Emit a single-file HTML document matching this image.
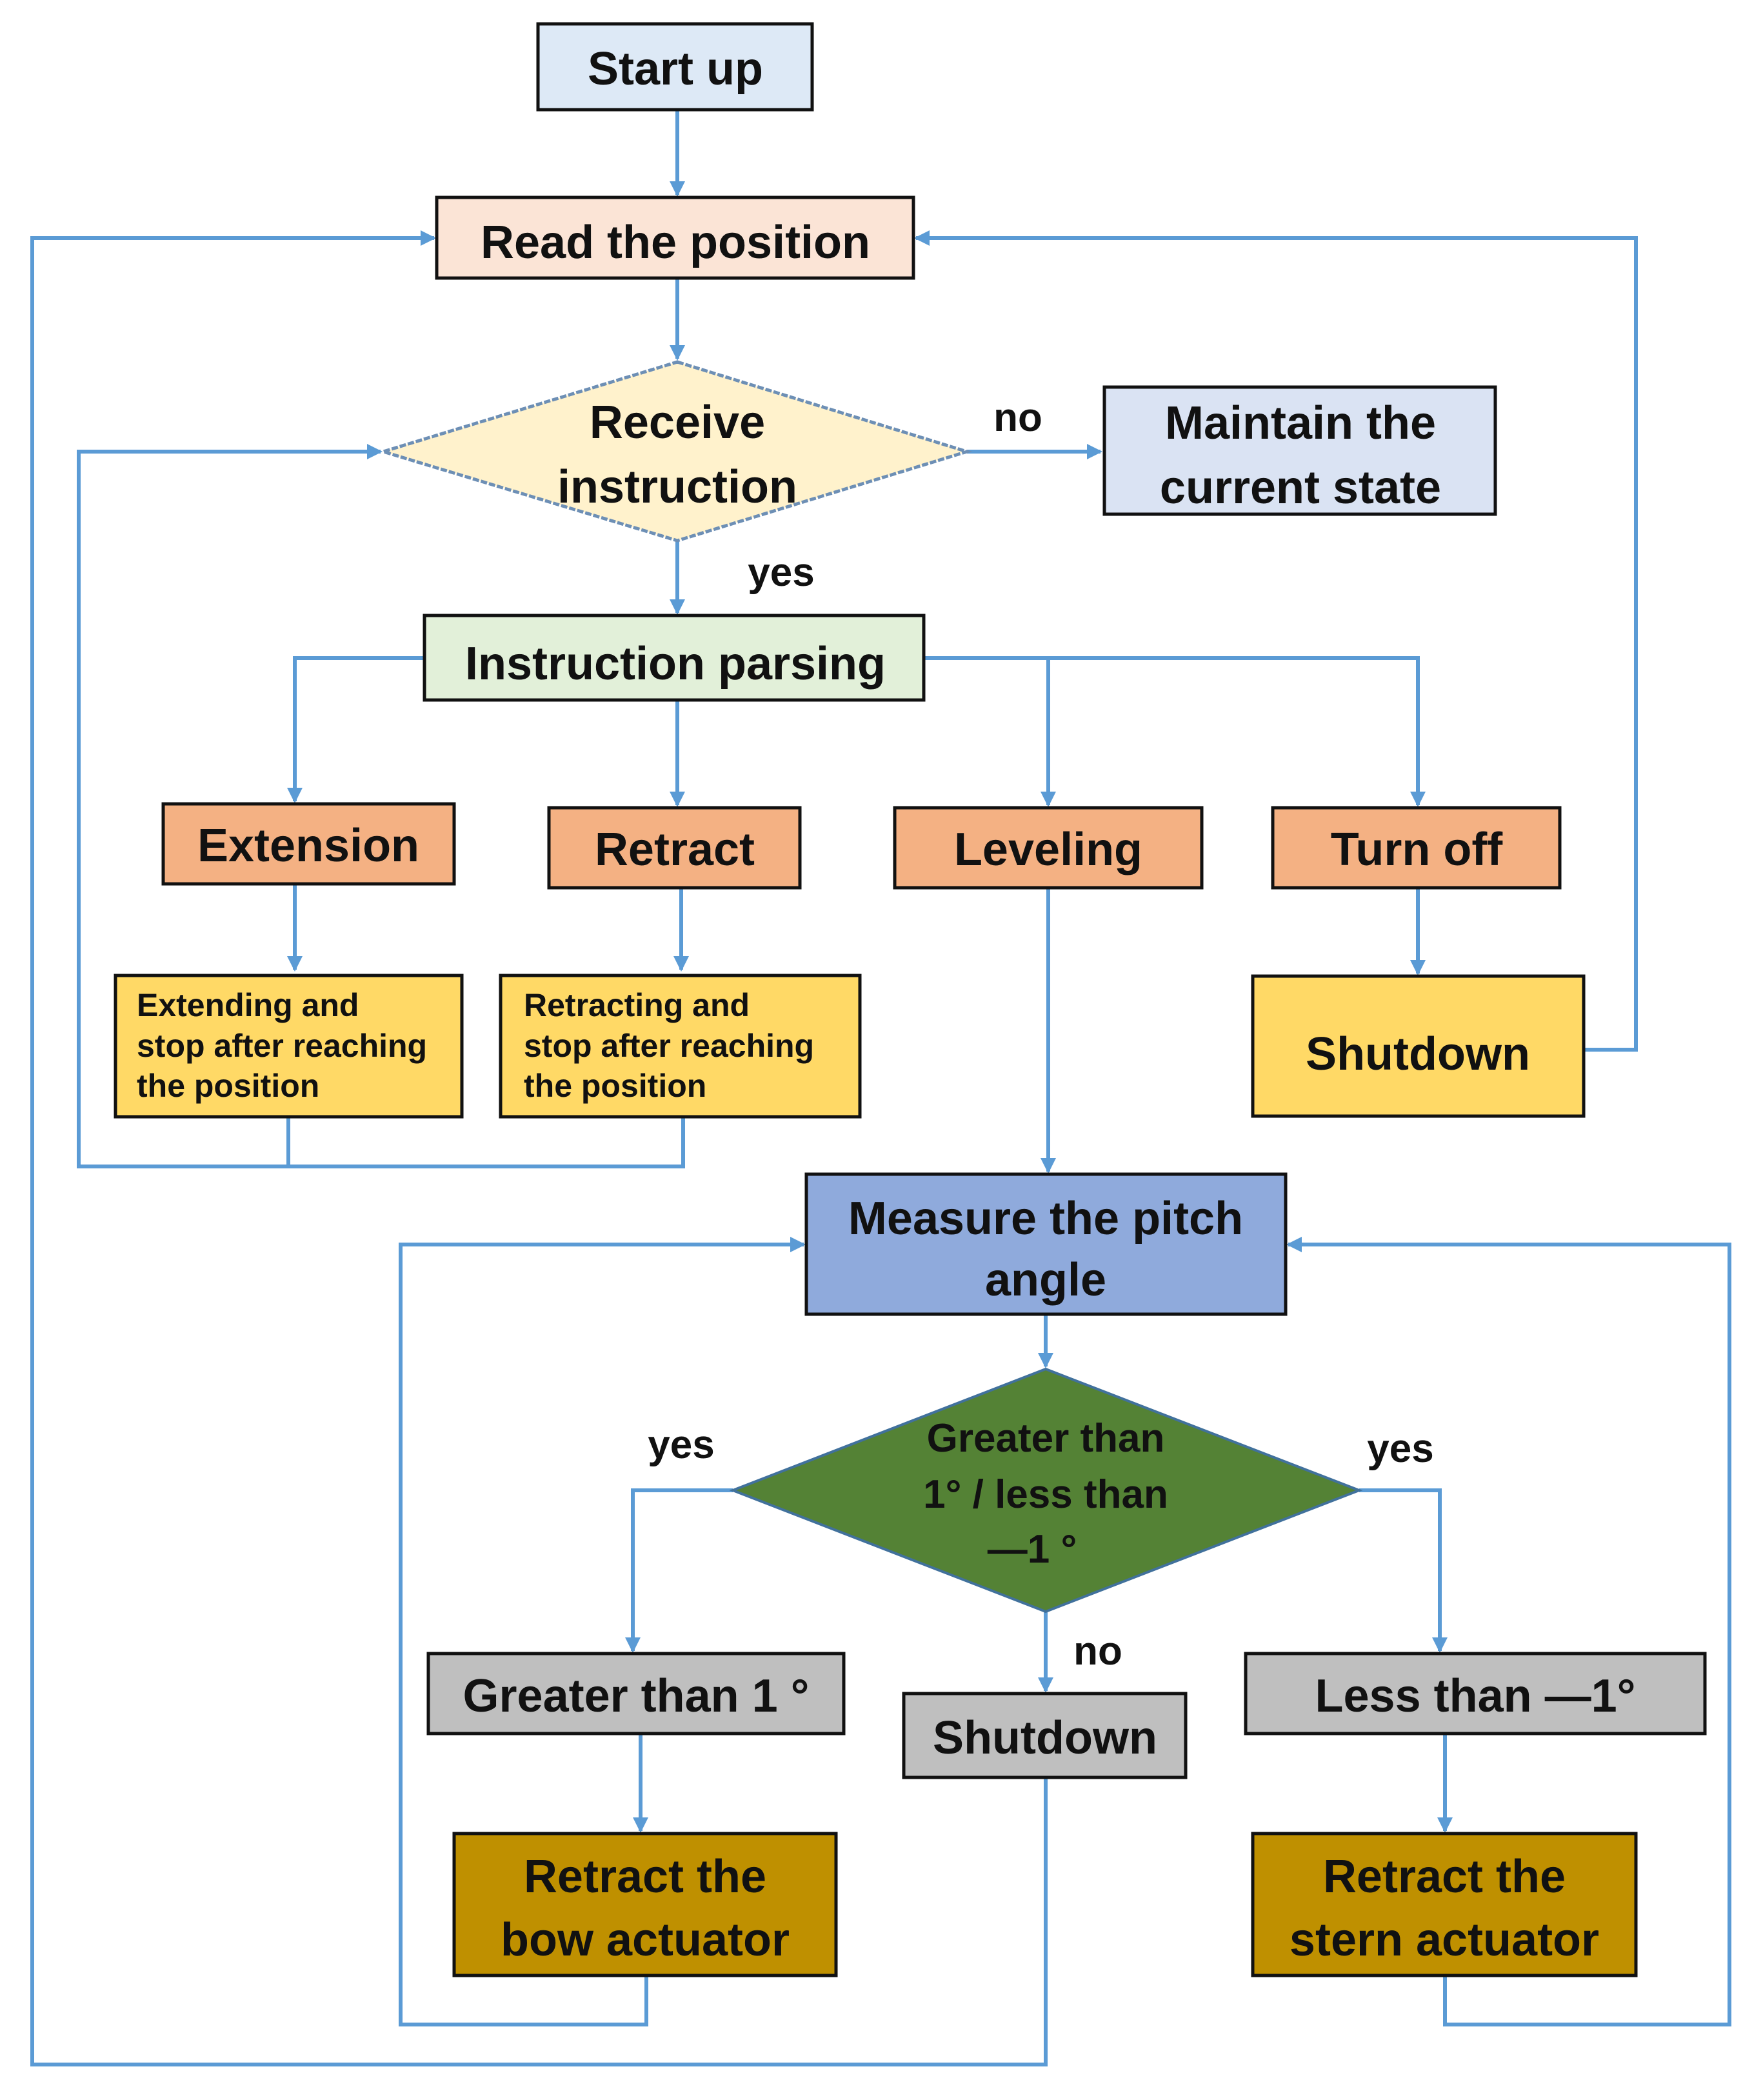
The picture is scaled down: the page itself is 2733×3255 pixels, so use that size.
<!DOCTYPE html>
<html><head><meta charset="utf-8"><style>
html,body{margin:0;padding:0;background:#fff;}
svg{display:block;}
text{font-family:"Liberation Sans",sans-serif;fill:#111;text-anchor:middle;}
.b{font-size:72px;font-weight:bold;}
.m{font-size:62px;font-weight:bold;}
.s{font-size:50px;text-anchor:start;font-weight:bold;}
</style></head><body>
<svg width="2733" height="3255" viewBox="0 0 2733 3255" xmlns="http://www.w3.org/2000/svg">
<defs>
<marker id="a" markerWidth="4" markerHeight="4" refX="3.5" refY="2" orient="auto" markerUnits="strokeWidth">
<path d="M0,0 L4,2 L0,4 z" fill="#5b9bd5"/></marker>
</defs>
<g fill="none" stroke="#5b9bd5" stroke-width="6">
<line x1="1050" y1="170" x2="1050" y2="302" marker-end="url(#a)"/>
<line x1="1050" y1="431" x2="1050" y2="556" marker-end="url(#a)"/>
<line x1="1499" y1="700" x2="1706" y2="700" marker-end="url(#a)"/>
<line x1="1050" y1="838" x2="1050" y2="950" marker-end="url(#a)"/>
<polyline points="658,1020 457,1020 457,1242" marker-end="url(#a)"/>
<line x1="1050" y1="1085" x2="1050" y2="1248" marker-end="url(#a)"/>
<polyline points="1432,1020 1625,1020 1625,1248" marker-end="url(#a)"/>
<polyline points="1625,1020 2198,1020 2198,1248" marker-end="url(#a)"/>
<line x1="457" y1="1370" x2="457" y2="1503" marker-end="url(#a)"/>
<line x1="1056" y1="1376" x2="1056" y2="1503" marker-end="url(#a)"/>
<line x1="2198" y1="1376" x2="2198" y2="1509" marker-end="url(#a)"/>
<line x1="1625" y1="1376" x2="1625" y2="1816" marker-end="url(#a)"/>
<polyline points="447,1726 447,1808 122,1808 122,700 590,700" marker-end="url(#a)"/>
<polyline points="1059,1726 1059,1808 447,1808"/>
<polyline points="1621,2755 1621,3200 50,3200 50,369 673,369" marker-end="url(#a)"/>
<polyline points="2455,1627 2536,1627 2536,369 1420,369" marker-end="url(#a)"/>
<line x1="1621" y1="2037" x2="1621" y2="2118" marker-end="url(#a)"/>
<polyline points="1136,2310 981,2310 981,2559" marker-end="url(#a)"/>
<polyline points="2107,2310 2232,2310 2232,2559" marker-end="url(#a)"/>
<line x1="1621" y1="2498" x2="1621" y2="2621" marker-end="url(#a)"/>
<line x1="993" y1="2687" x2="993" y2="2838" marker-end="url(#a)"/>
<line x1="2240" y1="2687" x2="2240" y2="2838" marker-end="url(#a)"/>
<polyline points="1002,3062 1002,3138 621,3138 621,1929 1246,1929" marker-end="url(#a)"/>
<polyline points="2240,3062 2240,3138 2681,3138 2681,1929 1997,1929" marker-end="url(#a)"/>
</g>
<g stroke="#111" stroke-width="5">
<rect x="834" y="37" width="425" height="133" fill="#dde9f6"/>
<rect x="677" y="306" width="739" height="125" fill="#fbe4d6"/>
<rect x="1712" y="600" width="606" height="197" fill="#dae3f3"/>
<rect x="658" y="954" width="774" height="131" fill="#e2f0d9"/>
<rect x="253" y="1246" width="451" height="124" fill="#f4b183"/>
<rect x="851" y="1252" width="389" height="124" fill="#f4b183"/>
<rect x="1387" y="1252" width="476" height="124" fill="#f4b183"/>
<rect x="1973" y="1252" width="445" height="124" fill="#f4b183"/>
<rect x="179" y="1512" width="537" height="219" fill="#ffd966"/>
<rect x="776" y="1512" width="557" height="219" fill="#ffd966"/>
<rect x="1942" y="1513" width="513" height="217" fill="#ffd966"/>
<rect x="1250" y="1820" width="743" height="217" fill="#8faadc"/>
<rect x="664" y="2563" width="644" height="124" fill="#bfbfbf"/>
<rect x="1401" y="2625" width="437" height="130" fill="#bfbfbf"/>
<rect x="1931" y="2563" width="712" height="124" fill="#bfbfbf"/>
<rect x="704" y="2842" width="592" height="220" fill="#bf9000"/>
<rect x="1942" y="2842" width="594" height="220" fill="#bf9000"/>
</g>
<polygon points="1050,561 1499,700 1050,838 594,700" fill="#fff2cc" stroke="#6d8fb5" stroke-width="5" stroke-dasharray="10,3"/>
<polygon points="1621,2122 2107,2310 1621,2498 1136,2310" fill="#548235" stroke="#41719c" stroke-width="4"/>
<text class="b" x="1047" y="131">Start up</text>
<text class="b" x="1047" y="400">Read the position</text>
<text class="b" x="1050" y="679">Receive</text>
<text class="b" x="1050" y="779">instruction</text>
<text class="b" x="2016" y="680">Maintain the</text>
<text class="b" x="2016" y="780">current state</text>
<text class="m" x="1578" y="668">no</text>
<text class="m" x="1211" y="908">yes</text>
<text class="b" x="1047" y="1053">Instruction parsing</text>
<text class="b" x="478" y="1335">Extension</text>
<text class="b" x="1046" y="1341">Retract</text>
<text class="b" x="1625" y="1341">Leveling</text>
<text class="b" x="2196" y="1341">Turn off</text>
<text class="s" x="212" y="1575">Extending and</text>
<text class="s" x="212" y="1638">stop after reaching</text>
<text class="s" x="212" y="1700">the position</text>
<text class="s" x="812" y="1575">Retracting and</text>
<text class="s" x="812" y="1638">stop after reaching</text>
<text class="s" x="812" y="1700">the position</text>
<text class="b" x="2198" y="1658">Shutdown</text>
<text class="b" x="1621" y="1913">Measure the pitch</text>
<text class="b" x="1621" y="2008">angle</text>
<text class="m" x="1621" y="2250">Greater than</text>
<text class="m" x="1621" y="2337">1° / less than</text>
<text class="m" x="1600" y="2422">—1 °</text>
<text class="m" x="1056" y="2260">yes</text>
<text class="m" x="2171" y="2266">yes</text>
<text class="m" x="1702" y="2580">no</text>
<text class="b" x="986" y="2653">Greater than 1 °</text>
<text class="b" x="1620" y="2718">Shutdown</text>
<text class="b" x="2287" y="2653">Less than —1°</text>
<text class="b" x="1000" y="2933">Retract the</text>
<text class="b" x="1000" y="3031">bow actuator</text>
<text class="b" x="2239" y="2933">Retract the</text>
<text class="b" x="2239" y="3031">stern actuator</text>
</svg>
</body></html>
